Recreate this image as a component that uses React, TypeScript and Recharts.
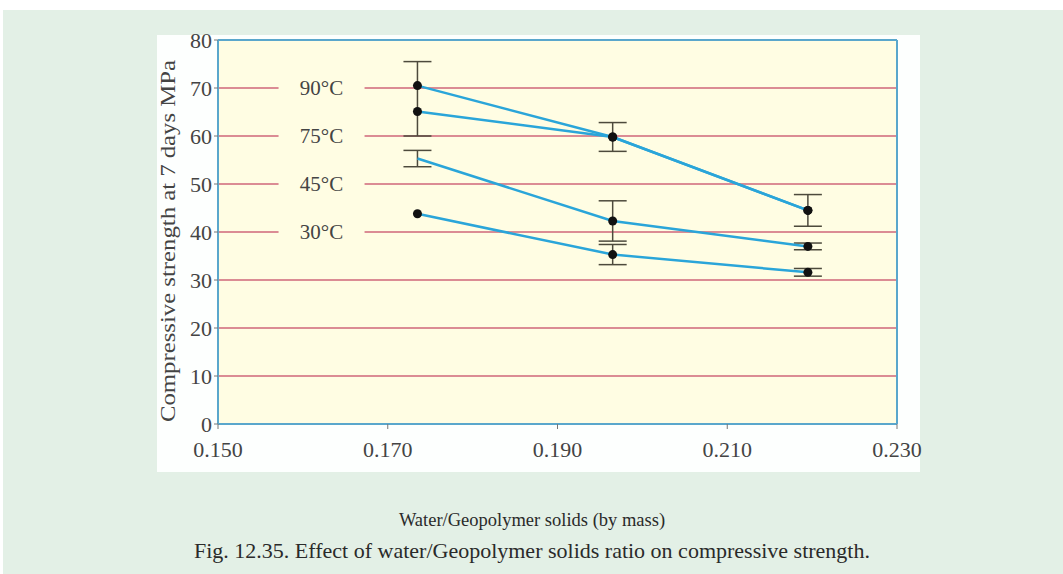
import React from "react";
import {
  LineChart,
  Line,
  XAxis,
  YAxis,
  CartesianGrid,
  ErrorBar,
  ReferenceLine,
  ReferenceDot,
} from "recharts";

const ratios = [0.1735, 0.1965, 0.2195];
const s90 = [70.5, 59.8, 44.5];
const s75 = [65.1, 59.8, 44.5];
const s45 = [55.3, 42.3, 37.0];
const s30 = [43.8, 35.3, 31.6];
// [below, above] error spans
const e90 = [[10.5, 5], 3, 3.3];
const e75 = [null, null, null];
const e45 = [1.7, 4.2, 0.7];
const e30 = [null, 2.1, 0.8];
const xTicks = [0.15, 0.17, 0.19, 0.21, 0.23];
const yTicks = [0, 10, 20, 30, 40, 50, 60, 70, 80];
const tempLabels = ["90°C", "75°C", "45°C", "30°C"];
const tempLabelY = [70, 60, 50, 40];

const data = ratios.map((r, i) => ({
  x: r,
  t90: s90[i],
  t75: s75[i],
  t45: s45[i],
  t30: s30[i],
  e90: e90[i],
  e75: e75[i],
  e45: e45[i],
  e30: e30[i],
}));

const serif = "Liberation Serif, serif";
const lineColor = "#2aa5d9";
const barColor = "#4d4a3c";
const gridColor = "#db8c94";
const axisColor = "#5aa7cc";
const textColor = "#444";

const makeDot = (hidden: number[]) => (props: any) => {
  const { cx, cy, index } = props;
  if (hidden.includes(index)) return <g key={index} />;
  return <circle key={index} cx={cx} cy={cy} r={4.5} fill="#111" />;
};

const TempLabel = (text: string) => (props: any) => {
  const { cx, cy } = props;
  return (
    <g>
      <rect x={cx - 43} y={cy - 6} width={86} height={12} fill="#fffde3" />
      <text
        x={cx}
        y={cy + 7}
        textAnchor="middle"
        fontFamily={serif}
        fontSize={21}
        fill={textColor}
      >
        {text}
      </text>
    </g>
  );
};

export default function App() {
  return (
    <div style={{ position: "absolute", left: 0, top: 0, width: 1063, height: 574, background: "#fff" }}>
      <div style={{ position: "absolute", left: 3, top: 10, width: 1060, height: 564, background: "#e3f0e6" }} />
      <div style={{ position: "absolute", left: 157, top: 35, width: 763, height: 437, background: "#fdfffe" }} />
      <svg style={{ position: "absolute", left: 0, top: 0 }} width={1063} height={574}>
        <text
          transform="translate(175,241) rotate(-90)"
          textAnchor="middle"
          fontFamily={serif}
          fontSize={22}
          fill={textColor}
          textLength={362}
          lengthAdjust="spacingAndGlyphs"
        >
          Compressive strength at 7 days MPa
        </text>
        <text x={532} y={526} textAnchor="middle" fontFamily={serif} fontSize={18.5} fill="#2a2a2a">
          Water/Geopolymer solids (by mass)
        </text>
        <text x={532} y={558} textAnchor="middle" fontFamily={serif} fontSize={22} fill="#2a2a2a">
          Fig. 12.35. Effect of water/Geopolymer solids ratio on compressive strength.
        </text>
      </svg>
      <div style={{ position: "absolute", left: 0, top: 0 }}>
        <LineChart
          width={1063}
          height={574}
          data={data}
          margin={{ top: 40, right: 166, bottom: 110, left: 174 }}
        >
          <CartesianGrid
            vertical={false}
            horizontal
            stroke={gridColor}
            strokeWidth={2}
            fill="#fffde3"
            fillOpacity={1}
          />
          <XAxis
            dataKey="x"
            type="number"
            domain={[0.15, 0.23]}
            ticks={xTicks}
            tickFormatter={(v) => v.toFixed(3)}
            stroke={axisColor}
            strokeWidth={2}
            tickLine={{ stroke: "#777", strokeWidth: 1 }}
            tickSize={5}
            tickMargin={12}
            height={40}
            tick={{ fontFamily: serif, fontSize: 22, fill: textColor }}
          />
          <YAxis
            type="number"
            domain={[0, 80]}
            ticks={yTicks}
            stroke={axisColor}
            strokeWidth={2}
            tickLine={{ stroke: "#777", strokeWidth: 1 }}
            tickSize={4}
            tickMargin={2}
            width={44}
            tick={{ fontFamily: serif, fontSize: 22, fill: textColor }}
          />
          <ReferenceLine y={80} stroke={axisColor} strokeWidth={2} />
          <ReferenceLine x={0.23} stroke={axisColor} strokeWidth={2} />
          {tempLabels.map((t, i) => (
            <ReferenceDot
              key={t}
              x={0.1622}
              y={tempLabelY[i]}
              r={0}
              shape={TempLabel(t)}
            />
          ))}
          <Line dataKey="t75" stroke={lineColor} strokeWidth={2.5} dot={makeDot([])} isAnimationActive={false}>
            <ErrorBar dataKey="e75" width={14} stroke={barColor} strokeWidth={1.5} />
          </Line>
          <Line dataKey="t90" stroke={lineColor} strokeWidth={2.5} dot={makeDot([])} isAnimationActive={false}>
            <ErrorBar dataKey="e90" width={14} stroke={barColor} strokeWidth={1.5} />
          </Line>
          <Line dataKey="t45" stroke={lineColor} strokeWidth={2.5} dot={makeDot([0])} isAnimationActive={false}>
            <ErrorBar dataKey="e45" width={14} stroke={barColor} strokeWidth={1.5} />
          </Line>
          <Line dataKey="t30" stroke={lineColor} strokeWidth={2.5} dot={makeDot([])} isAnimationActive={false}>
            <ErrorBar dataKey="e30" width={14} stroke={barColor} strokeWidth={1.5} />
          </Line>
        </LineChart>
      </div>
    </div>
  );
}
